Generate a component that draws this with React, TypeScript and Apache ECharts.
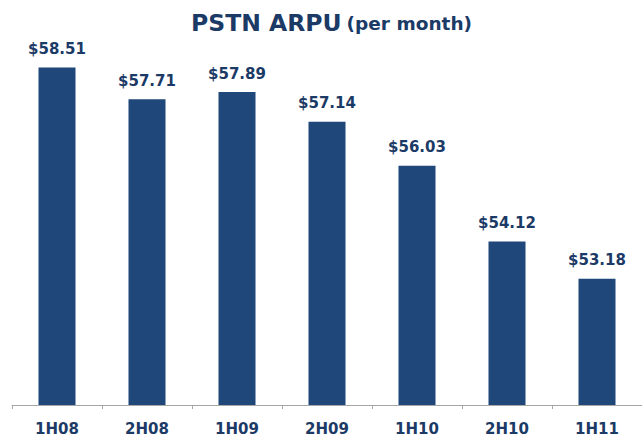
import React, { useEffect, useRef } from "react";
import * as echarts from "echarts";

const categories = ["1H08", "2H08", "1H09", "2H09", "1H10", "2H10", "1H11"];
const arpuValues = [58.51, 57.71, 57.89, 57.14, 56.03, 54.12, 53.18];

const BAR = "#1F4779";
const TEXT = "#1B3A66";

export default function App() {
  const ref = useRef<HTMLDivElement>(null);
  useEffect(() => {
    const chart = echarts.init(ref.current!, null, { renderer: "svg" });
    chart.setOption({
      animation: false,
      backgroundColor: "#ffffff",
      title: {
        text: "{a|PSTN ARPU} {b|(per month)}",
        left: 186,
        top: 6,
        textStyle: {
          rich: {
            a: { fontSize: 23.5, fontWeight: "bold", color: TEXT, fontFamily: "DejaVu Sans" },
            b: { fontSize: 18.5, fontWeight: "bold", color: TEXT, fontFamily: "DejaVu Sans" },
          },
        },
      },
      grid: { left: 12, right: -3, top: 48, bottom: 31 },
      xAxis: {
        type: "category",
        data: categories,
        axisLine: { lineStyle: { color: "#A6A6A6", width: 1 } },
        axisTick: { show: true, length: 4, lineStyle: { color: "#A6A6A6" } },
        axisLabel: {
          margin: 16,
          fontSize: 15,
          fontWeight: "bold",
          color: TEXT,
          fontFamily: "DejaVu Sans",
        },
      },
      yAxis: {
        type: "value",
        min: 50,
        max: 59,
        show: false,
        splitLine: { show: false },
      },
      series: [
        {
          type: "bar",
          data: arpuValues,
          barWidth: 37,
          itemStyle: { color: BAR },
          label: {
            show: true,
            position: "top",
            distance: 11,
            fontSize: 15,
            fontWeight: "bold",
            color: TEXT,
            fontFamily: "DejaVu Sans",
            formatter: (p: any) => "$" + Number(p.value).toFixed(2),
          },
        },
      ],
    });
    return () => chart.dispose();
  }, []);
  return (
    <div
      ref={ref}
      style={{ position: "fixed", left: 0, top: 0, width: 642, height: 436 }}
    />
  );
}
